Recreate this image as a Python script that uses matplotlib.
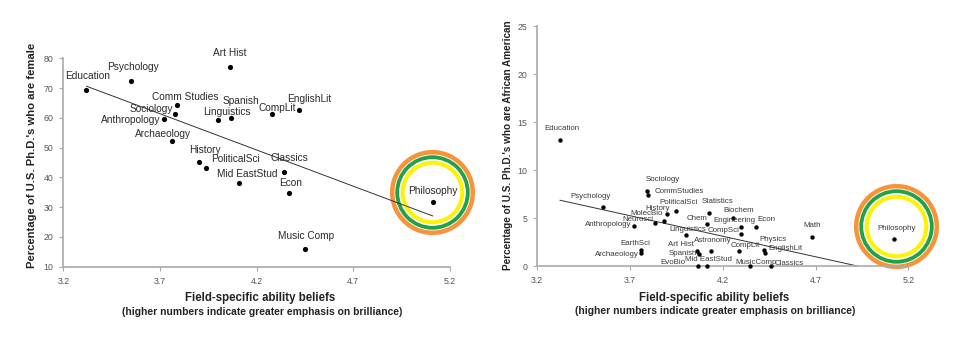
import numpy as np
import matplotlib
matplotlib.use("Agg")
import matplotlib.pyplot as plt
from matplotlib.transforms import ScaledTranslation

plt.rcParams['font.family'] = ['Liberation Sans', 'DejaVu Sans']

# Field-specific ability beliefs vs. share of U.S. Ph.D.'s who are female
female_fields = ["Education", "Psychology", "Art Hist", "Comm Studies", "Sociology",
                 "Anthropology", "Archaeology", "Linguistics", "Spanish", "History",
                 "PoliticalSci", "Mid EastStud", "CompLit", "EnglishLit", "Classics",
                 "Econ", "Philosophy", "Music Comp"]
female_belief = [3.32, 3.55, 4.06, 3.79, 3.78, 3.72, 3.76, 4.00, 4.07, 3.90,
                 3.94, 4.11, 4.28, 4.42, 4.34, 4.37, 5.11, 4.45]
female_pct = [69.5, 72.3, 77.0, 64.3, 61.4, 59.7, 52.3, 59.2, 59.9, 45.0,
              43.1, 38.2, 61.2, 62.6, 41.9, 34.7, 31.6, 15.9]

# Field-specific ability beliefs vs. share of U.S. Ph.D.'s who are African American
aa_fields = ["Education", "Psychology", "Sociology", "CommStudies", "PoliticalSci",
             "History", "MolecBio", "Neurosci", "Anthropology", "Linguistics",
             "Chem", "Statistics", "Biochem", "Engineering", "CompSci", "Econ",
             "Astronomy", "CompLit", "Physics", "EnglishLit", "Math", "EarthSci",
             "Archaeology", "Art Hist", "Spanish", "EvoBio", "Mid EastStud",
             "MusicComp", "Classics", "Philosophy"]
aa_belief = [3.324, 3.555, 3.793, 3.800, 3.946, 3.901, 3.886, 3.836, 3.723, 4.005,
             4.115, 4.124, 4.255, 4.296, 4.296, 4.377, 4.136, 4.290, 4.420, 4.428,
             4.680, 3.761, 3.761, 4.063, 4.073, 4.066, 4.115, 4.348, 4.458, 5.125]
aa_pct = [13.09, 6.11, 7.81, 7.43, 5.76, 5.38, 4.65, 4.44, 4.17, 3.20,
          4.34, 5.55, 5.00, 4.06, 3.33, 4.03, 1.56, 1.56, 1.67, 1.39,
          2.99, 1.67, 1.35, 1.53, 1.25, 0.0, 0.0, 0.0, 0.0, 2.78]

x_ticks = [3.2, 3.7, 4.2, 4.7, 5.2]
x_tick_labels = ["3.2", "3.7", "4.2", "4.7", "5.2"]
female_y_ticks = [10, 20, 30, 40, 50, 60, 70, 80]
aa_y_ticks = [0, 5, 10, 15, 20, 25]

# Label placement relative to each dot, in pixels (right, down)
female_label_shift = {
    "Education": (0.7, -13.3), "Psychology": (1.7, -14), "Art Hist": (0, -14),
    "Comm Studies": (7.7, -8), "Sociology": (-23.7, -5), "Anthropology": (-33, 1.7),
    "Archaeology": (-8.5, -6.3), "Linguistics": (8.7, -8.7), "Spanish": (9.7, -17),
    "History": (6.5, -12), "PoliticalSci": (29, -9), "Mid EastStud": (8, -8.4),
    "CompLit": (4.8, -6.6), "EnglishLit": (10.3, -11), "Classics": (5.5, -14),
    "Econ": (1.4, -10.3), "Philosophy": (0.7, -11.6), "Music Comp": (0.6, -13.3),
}
aa_label_shift = {
    "Education": (1.8, -12), "Psychology": (-12.5, -10.6), "Sociology": (15.3, -12),
    "CommStudies": (30.4, -3), "PoliticalSci": (2.5, -8.7), "Statistics": (9.2, -11),
    "History": (-9.3, -5.6), "MolecBio": (-17.6, -8), "Neurosci": (-17.5, -4.3),
    "Anthropology": (-25.5, -1), "Chem": (-9.7, -5.6), "Biochem": (5.6, -7.3),
    "Engineering": (-6.5, -6.3), "Econ": (10.4, -8), "Linguistics": (1.2, -5.3),
    "CompSci": (-17.3, -4), "Astronomy": (1.8, -11), "Art Hist": (-16.2, -7),
    "CompLit": (5.4, -6), "Physics": (9.7, -10.7), "EnglishLit": (20.3, -4.4),
    "Math": (0.3, -11.6), "EarthSci": (-5.7, -6), "Archaeology": (-24.3, 1),
    "Spanish": (-16.5, -0.7), "EvoBio": (-24.5, -4), "Mid EastStud": (1.1, -6.7),
    "MusicComp": (6, -3.3), "Classics": (18.2, -3), "Philosophy": (2, -11),
}

DPI = 100
PT = 72.0 / DPI  # points per pixel

fig = plt.figure(figsize=(9.78, 3.46), dpi=DPI)
ax_f = fig.add_axes([0.0647, 0.2292, 0.3954, 0.6023])
ax_a = fig.add_axes([0.5491, 0.2312, 0.3797, 0.6936])


def style_axes(ax, yticks, ylim):
    ax.set_xlim(3.2, 5.2)
    ax.set_ylim(*ylim)
    ax.set_xticks(x_ticks)
    ax.set_xticklabels(x_tick_labels)
    ax.set_yticks(yticks)
    for s in ("top", "right"):
        ax.spines[s].set_visible(False)
    for s in ("left", "bottom"):
        ax.spines[s].set_color("#aaaaaa")
        ax.spines[s].set_linewidth(1.2)
    ax.tick_params(axis="both", length=3, width=0.8, color="#aaaaaa",
                   labelsize=6.3, labelcolor="#555555", pad=4.2)
    ax.patch.set_visible(False)


def draw_panel(ax, fields, xs, ys, shifts, dot_size, label_size, label_color,
               ring_shift):
    xs = np.asarray(xs)
    ys = np.asarray(ys)
    # highlight rings around Philosophy
    i = fields.index("Philosophy")
    ring_tr = ax.transData + ScaledTranslation(ring_shift[0] / DPI,
                                               -ring_shift[1] / DPI,
                                               fig.dpi_scale_trans)
    for r, w, c in [(40.3, 4.5, "#f7943a"), (35.3, 3.8, "#1fa24a"), (29.8, 4.0, "#fff200")]:
        ax.plot([xs[i]], [ys[i]], marker="o", markersize=2 * r * PT,
                markerfacecolor="none", markeredgecolor=c, markeredgewidth=w * PT,
                transform=ring_tr, clip_on=False, zorder=1)
    # least-squares trend line
    k, b = np.polyfit(xs, ys, 1)
    lx = np.array([xs.min(), xs.max()])
    ax.plot(lx, k * lx + b, color="#333333", lw=0.7, zorder=2)
    ax.scatter(xs, ys, s=dot_size, color="black", zorder=3, clip_on=False,
               linewidths=0)
    for name, x, y in zip(fields, xs, ys):
        dx, dy = shifts[name]
        ax.annotate(name, (x, y), xytext=(dx * PT, -dy * PT),
                    textcoords="offset points", ha="center", va="center",
                    fontsize=label_size, color=label_color, zorder=4)


style_axes(ax_f, female_y_ticks, (10, 80))
style_axes(ax_a, aa_y_ticks, (0, 25))

draw_panel(ax_f, female_fields, female_belief, female_pct, female_label_shift,
           14, 7.3, "#2a2a2a", (-0.7, -10.2))
draw_panel(ax_a, aa_fields, aa_belief, aa_pct, aa_label_shift,
           10, 5.7, "#3a3a3a", (1.2, -13.3))

W, H = 978.0, 346.0


def ftext(px, py, s, **kw):
    fig.text(px / W, 1 - py / H, s, ha="center", va="center", **kw)


ftext(32.5, 155, "Percentage of U.S. Ph.D.'s who are female", rotation=90,
      fontsize=8.1, fontweight="bold", color="#222222")
ftext(508.3, 145, "Percentage of U.S. Ph.D.'s who are African American", rotation=90,
      fontsize=7.2, fontweight="bold", color="#222222")

for cx, cy in [(260.3, 298), (713.8, 298)]:
    ftext(cx, cy, "Field-specific ability beliefs", fontsize=8.3,
          fontweight="bold", color="#222222")
for cx, cy in [(261.7, 312), (715, 311.5)]:
    ftext(cx, cy, "(higher numbers indicate greater emphasis on brilliance)",
          fontsize=7.4, fontweight="bold", color="#222222")

fig.savefig("out.png", dpi=DPI, facecolor="white")
